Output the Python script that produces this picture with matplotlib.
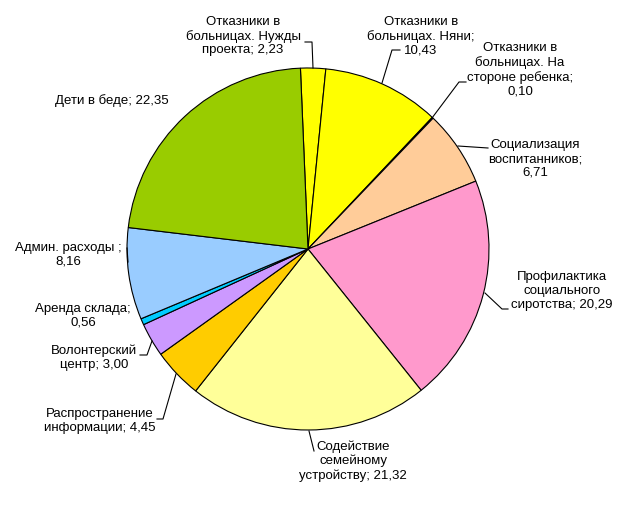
import matplotlib
matplotlib.use("Agg")
import matplotlib.pyplot as plt

plt.rcParams['font.family'] = ['Liberation Sans', 'DejaVu Sans']

# data: clockwise from the top
labels = [
    "Отказники в\nбольницах. Нужды\nпроекта; 2,23",
    "Отказники в\nбольницах. Няни;\n10,43",
    "Отказники в\nбольницах. На\nстороне ребенка;\n0,10",
    "Социализация\nвоспитанников;\n6,71",
    "Профилактика\nсоциального\nсиротства; 20,29",
    "Содействие\nсемейному\nустройству; 21,32",
    "Распространение\nинформации; 4,45",
    "Волонтерский\nцентр; 3,00",
    "Аренда склада;\n0,56",
    "Админ. расходы ;\n8,16",
    "Дети в беде; 22,35",
]
values = [2.23, 10.43, 0.10, 6.71, 20.29, 21.32, 4.45, 3.00, 0.56, 8.16, 22.35]
colors = ['#FFFF00', '#FFFF00', '#993366', '#FFCC99', '#FF99CC', '#FFFF99',
          '#FFCC00', '#CC99FF', '#00CCFF', '#99CCFF', '#99CC00']

W, H = 630, 513
cx, cy, R = 308, 249, 181

fig = plt.figure(figsize=(W / 100, H / 100), dpi=100)
fig.patch.set_facecolor('white')
ax = fig.add_axes([(cx - R) / W, (H - cy - R) / H, 2 * R / W, 2 * R / H])

ax.pie(values, colors=colors, startangle=92.4, counterclock=False, radius=1,
       wedgeprops=dict(edgecolor='black', linewidth=0.8))
ax.set_xlim(-1, 1)
ax.set_ylim(-1, 1)
ax.axis('off')


def d(px, py):
    # pixel -> data coordinates
    return ((px - cx) / R, (cy - py) / R)


# label centre (px) and leader path (px)
label_pos = [
    (243, 36), (421, 36), (520, 70), (535, 159), (562, 291),
    (353, 461), (100, 421), (94, 358), (83, 316), (68, 255), (112, 101),
]
leaders = [
    [(305, 42), (312, 42), (313, 68)],
    [(400, 50), (392, 50), (382, 83)],
    [(466, 82), (459, 82), (432, 118)],
    [(488, 148), (458, 146)],
    [(508, 309), (502, 309), (485, 293)],
    [(314, 451), (309, 431)],
    [(157, 419), (163, 419), (176, 374)],
    [(140, 355), (147, 355), (152, 341)],
    None,
    [(127, 248), (128, 262)],
    None,
]

for lab, pos, path in zip(labels, label_pos, leaders):
    x, y = d(*pos)
    ax.text(x, y, lab, ha='center', va='center', fontsize=9.5,
            linespacing=1.2, clip_on=False)
    if path:
        pts = [d(*p) for p in path]
        ax.plot([p[0] for p in pts], [p[1] for p in pts], color='black',
                lw=0.8, clip_on=False)

fig.savefig('out.png', dpi=100, facecolor='white')
